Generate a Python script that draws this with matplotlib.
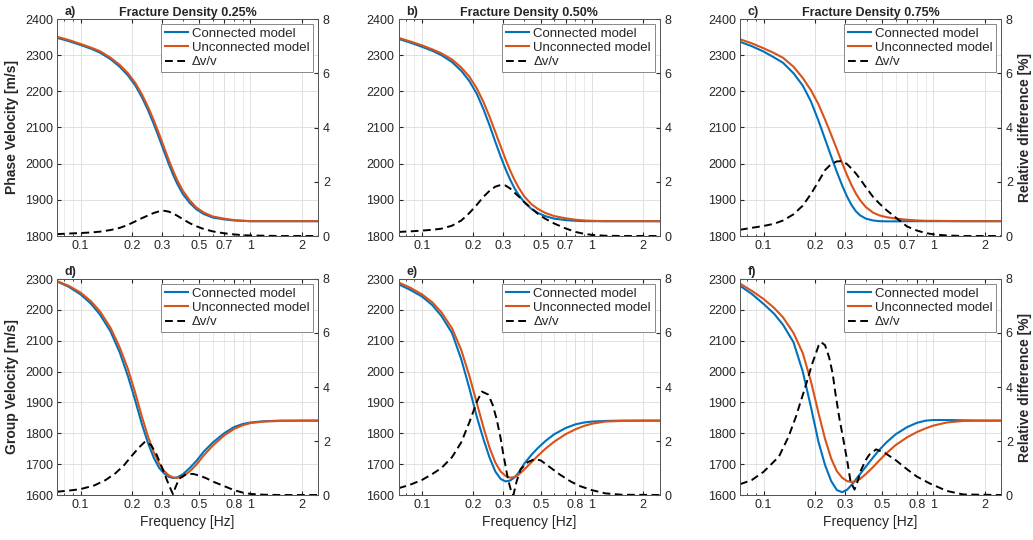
import numpy as np
import matplotlib
matplotlib.use('Agg')
import matplotlib.pyplot as plt
from matplotlib.ticker import FixedLocator, FixedFormatter, LogLocator, NullFormatter

plt.rcParams['font.family'] = ['Liberation Sans', 'DejaVu Sans']
plt.rcParams['font.size'] = 9

# Frequency grid (Hz) used for the velocity curves
freq = [0.0726, 0.085, 0.1, 0.115, 0.13, 0.15, 0.17, 0.19, 0.21, 0.23, 0.25, 0.27, 0.29, 0.31, 0.33,
        0.35, 0.37, 0.4, 0.44, 0.48, 0.53, 0.6, 0.7, 0.8, 0.9, 1.0, 1.2, 1.5, 2.0, 2.5]

# Phase velocity [m/s]
phase_con_a = [2348, 2339, 2328, 2318, 2307, 2289, 2268, 2244, 2216, 2183, 2147, 2109, 2071, 2034, 2000,
               1970, 1945, 1916, 1891, 1874, 1861, 1851, 1846, 1843, 1842, 1841, 1841, 1841, 1841, 1841]
phase_unc_a = [2351, 2342, 2331, 2321, 2311, 2293, 2273, 2250, 2223, 2191, 2156, 2119, 2082, 2045, 2011,
               1981, 1955, 1925, 1898, 1879, 1865, 1854, 1848, 1844, 1842, 1841, 1841, 1841, 1841, 1841]
phase_con_b = [2345, 2335, 2323, 2312, 2300, 2281, 2257, 2228, 2193, 2150, 2105, 2060, 2020, 1985, 1956,
               1932, 1914, 1893, 1875, 1864, 1855, 1848, 1844, 1842, 1841, 1841, 1841, 1841, 1841, 1841]
phase_unc_b = [2348, 2338, 2327, 2316, 2305, 2288, 2266, 2240, 2208, 2170, 2129, 2087, 2048, 2012, 1981,
               1955, 1934, 1909, 1888, 1875, 1864, 1855, 1849, 1845, 1843, 1842, 1841, 1841, 1841, 1841]
phase_con_c = [2337, 2325, 2310, 2294, 2279, 2250, 2216, 2172, 2120, 2068, 2020, 1977, 1940, 1909, 1885,
               1868, 1857, 1848, 1843, 1841, 1840.5, 1840.5, 1841, 1841, 1841, 1841, 1841, 1841, 1841, 1841]
phase_unc_c = [2344, 2333, 2319, 2306, 2293, 2268, 2237, 2203, 2165, 2122, 2080, 2040, 2002, 1968, 1940,
               1917, 1899, 1880, 1865, 1857, 1852, 1848, 1845, 1843, 1842, 1842, 1841.5, 1841, 1841, 1841]

# Group velocity [m/s]
group_con_d = [2292, 2275, 2250, 2220, 2185, 2130, 2062, 1985, 1905, 1828, 1767, 1720, 1688, 1670, 1659,
               1655, 1657, 1667, 1688, 1710, 1740, 1770, 1800, 1820, 1830, 1835, 1839, 1841, 1841, 1841]
group_unc_d = [2293, 2278, 2256, 2228, 2195, 2142, 2078, 2008, 1930, 1852, 1788, 1738, 1702, 1678, 1664,
               1657, 1655, 1660, 1677, 1698, 1728, 1760, 1793, 1814, 1826, 1833, 1838, 1840, 1841, 1841]
group_con_e = [2283, 2265, 2243, 2215, 2180, 2125, 2040, 1945, 1853, 1780, 1720, 1676, 1652, 1644, 1647,
               1657, 1672, 1702, 1730, 1752, 1774, 1797, 1817, 1829, 1835, 1838, 1840, 1841, 1841, 1841]
group_unc_e = [2289, 2272, 2250, 2224, 2192, 2140, 2070, 1985, 1898, 1818, 1752, 1705, 1676, 1662, 1656,
               1658, 1666, 1683, 1706, 1727, 1749, 1773, 1797, 1813, 1824, 1831, 1838, 1840, 1841, 1841]
group_con_f = [2278, 2252, 2219, 2188, 2152, 2095, 2000, 1885, 1774, 1697, 1645, 1616, 1609, 1617, 1633,
               1651, 1668, 1692, 1721, 1746, 1771, 1797, 1820, 1834, 1841, 1843, 1843, 1842, 1841, 1841]
group_unc_f = [2285, 2262, 2235, 2207, 2176, 2125, 2060, 1968, 1868, 1782, 1718, 1677, 1656, 1645, 1642,
               1645, 1652, 1668, 1690, 1712, 1736, 1762, 1787, 1804, 1816, 1825, 1835, 1840, 1841, 1841]

# Relative difference dv/v [%]
dv_a = [0.07, 0.09, 0.11, 0.13, 0.16, 0.22, 0.30, 0.41, 0.54, 0.66, 0.76, 0.85, 0.91, 0.93, 0.90,
        0.83, 0.75, 0.62, 0.47, 0.36, 0.26, 0.17, 0.10, 0.06, 0.03, 0.02, 0.01, 0, 0, 0]
dv_b = [0.15, 0.17, 0.20, 0.23, 0.27, 0.38, 0.57, 0.85, 1.15, 1.45, 1.67, 1.82, 1.88, 1.86, 1.75,
        1.60, 1.46, 1.25, 1.02, 0.82, 0.64, 0.46, 0.28, 0.15, 0.08, 0.04, 0.01, 0, 0, 0]
dv_c = [0.23, 0.30, 0.37, 0.45, 0.57, 0.80, 1.12, 1.55, 2.00, 2.43, 2.65, 2.75, 2.76, 2.65, 2.48,
        2.30, 2.10, 1.80, 1.45, 1.20, 0.95, 0.68, 0.35, 0.20, 0.11, 0.06, 0.02, 0, 0, 0]

freq_dv_d = [0.0726, 0.09, 0.1, 0.12, 0.14, 0.16, 0.18, 0.2, 0.22, 0.24, 0.26, 0.28, 0.3, 0.32, 0.34,
             0.35, 0.36, 0.38, 0.42, 0.46, 0.5, 0.55, 0.6, 0.7, 0.8, 0.9, 1.0, 1.2, 1.5, 2.5]
dv_d = [0.12, 0.18, 0.22, 0.35, 0.55, 0.80, 1.10, 1.45, 1.75, 1.98, 1.85, 1.50, 1.05, 0.60, 0.20,
        0.03, 0.25, 0.60, 0.78, 0.78, 0.72, 0.62, 0.50, 0.33, 0.18, 0.09, 0.04, 0.01, 0, 0]
freq_dv_e = [0.0726, 0.085, 0.1, 0.115, 0.13, 0.15, 0.17, 0.19, 0.21, 0.225, 0.245, 0.26, 0.275, 0.29,
             0.3, 0.32, 0.335, 0.345, 0.36, 0.38, 0.42, 0.46, 0.5, 0.56, 0.65, 0.75, 0.85, 1.0, 1.2,
             1.5, 2.5]
dv_e = [0.25, 0.38, 0.56, 0.78, 1.00, 1.40, 1.95, 2.70, 3.45, 3.83, 3.72, 3.35, 2.80, 2.10,
        1.55, 0.60, 0.12, 0.0, 0.50, 0.95, 1.22, 1.33, 1.28, 1.05, 0.75, 0.50, 0.33, 0.18, 0.06,
        0.01, 0]
freq_dv_f = [0.0726, 0.085, 0.1, 0.123, 0.14, 0.155, 0.165, 0.176, 0.193, 0.211, 0.218, 0.23, 0.243,
             0.255, 0.265, 0.28, 0.29, 0.31, 0.325, 0.343, 0.36, 0.373, 0.4, 0.42, 0.46, 0.52, 0.6,
             0.7, 0.8, 0.95, 1.2, 1.5, 2.5]
dv_f = [0.40, 0.55, 0.86, 1.42, 2.15, 2.90, 3.45, 4.00, 4.85, 5.54, 5.66, 5.55, 5.10, 4.50, 3.75,
        2.80, 2.30, 1.30, 0.50, 0.20, 0.55, 0.90, 1.30, 1.50, 1.69, 1.55, 1.29, 0.95, 0.68, 0.43,
        0.15, 0.02, 0]

titles = ['Fracture Density 0.25%', 'Fracture Density 0.50%', 'Fracture Density 0.75%']
letters = ['a)', 'b)', 'c)', 'd)', 'e)', 'f)']
top_xticks = [0.1, 0.2, 0.3, 0.5, 0.7, 1, 2]
bottom_xticks = [0.1, 0.2, 0.3, 0.5, 0.8, 1, 2]

blue = '#0072BD'
orange = '#D95319'
txt = '#262626'

panels = [
    (freq, phase_con_a, phase_unc_a, freq, dv_a),
    (freq, phase_con_b, phase_unc_b, freq, dv_b),
    (freq, phase_con_c, phase_unc_c, freq, dv_c),
    (freq, group_con_d, group_unc_d, freq_dv_d, dv_d),
    (freq, group_con_e, group_unc_e, freq_dv_e, dv_e),
    (freq, group_con_f, group_unc_f, freq_dv_f, dv_f),
]

fig = plt.figure(figsize=(10.33, 5.4), dpi=100)
lefts = [57 / 1033, 398.5 / 1033, 740 / 1033]
w = 261 / 1033
rows = [(1 - 236 / 540, 217 / 540), (1 - 495 / 540, 216 / 540)]

for i, (f1, con, unc, f2, dv) in enumerate(panels):
    r, c = divmod(i, 3)
    ax = fig.add_axes([lefts[c], rows[r][0], w, rows[r][1]])
    ax2 = ax.twinx()

    h1, = ax.plot(f1, con, color=blue, lw=1.5, label='Connected model')
    h2, = ax.plot(f1, unc, color=orange, lw=1.5, label='Unconnected model')
    h3, = ax2.plot(f2, dv, color='black', lw=1.4, ls=(0, (4, 2.3)), label='Δv/v')

    ax.set_xscale('log')
    ax.set_xlim(0.0726, 2.5)
    if r == 0:
        ax.set_ylim(1800, 2400)
        ax.set_yticks(np.arange(1800, 2401, 100))
        ticks = top_xticks
    else:
        ax.set_ylim(1600, 2300)
        ax.set_yticks(np.arange(1600, 2301, 100))
        ticks = bottom_xticks
    ax.xaxis.set_major_locator(FixedLocator(ticks))
    ax.xaxis.set_major_formatter(FixedFormatter([('%g' % t) for t in ticks]))
    ax.xaxis.set_minor_locator(LogLocator(base=10, subs=np.arange(2, 10)))
    ax.xaxis.set_minor_formatter(NullFormatter())
    ax2.set_ylim(0, 8)
    ax2.set_yticks([0, 2, 4, 6, 8])

    ax.grid(True, which='major', color='#dcdcdc', lw=0.6)
    ax.grid(True, which='minor', axis='x', color='#e6e6e6', lw=0.6)
    ax.set_axisbelow(True)

    for a in (ax, ax2):
        a.tick_params(direction='in', which='both', labelsize=9, colors=txt, length=3)
        a.tick_params(which='minor', length=1.5)
        for s in a.spines.values():
            s.set_color('#555555')
            s.set_linewidth(0.7)
    ax.tick_params(top=True, which='both', pad=3)

    ax.text(0.03, 1.005, letters[i], transform=ax.transAxes, fontsize=9, fontweight='bold',
            ha='left', va='bottom', color=txt)
    if r == 0:
        ax.set_title(titles[c], fontsize=9, fontweight='bold', color=txt, pad=2)
    else:
        ax.set_xlabel('Frequency [Hz]', fontsize=10, color=txt, labelpad=3)
    if c == 0:
        ax.set_ylabel('Phase Velocity [m/s]' if r == 0 else 'Group Velocity [m/s]',
                      fontsize=10, fontweight='bold', color=txt)
    if c == 2:
        ax2.set_ylabel('Relative difference [%]', fontsize=10, fontweight='bold', color=txt)

    leg = ax2.legend([h1, h2, h3], ['Connected model', 'Unconnected model', 'Δv/v'],
                     loc='upper right', fontsize=9.5, frameon=True, fancybox=False,
                     framealpha=1, edgecolor='#888888', handlelength=1.75,
                     labelspacing=0.15, borderpad=0.3, handletextpad=0.3,
                     borderaxespad=0.35)
    leg.get_frame().set_linewidth(0.7)
    for t in leg.get_texts():
        t.set_color(txt)

fig.savefig('out.png', dpi=100)
